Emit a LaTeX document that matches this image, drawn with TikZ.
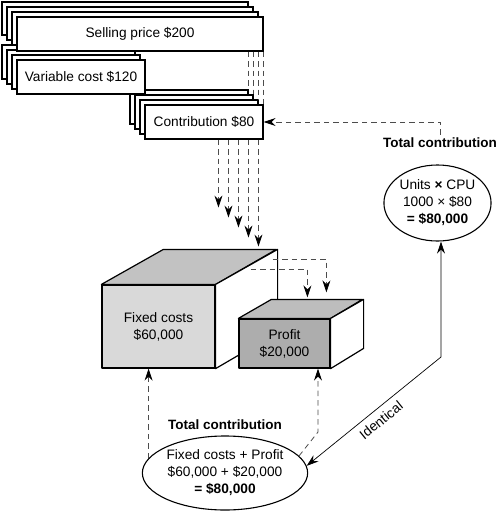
\documentclass[tikz,border=0pt]{standalone}
\usepackage{fontspec}
\setmainfont{Liberation Sans}
\usetikzlibrary{arrows.meta,shapes.geometric,calc}
\definecolor{fixfront}{HTML}{D9D9D9}
\definecolor{fixtop}{HTML}{C2C2C2}
\definecolor{proffront}{HTML}{ADADAD}
\definecolor{proftop}{HTML}{BDBDBD}
\begin{document}
\begin{tikzpicture}[x=1pt,y=-1pt,
  font=\fontsize{13.7}{17}\selectfont,
  card/.style={draw,line width=1.1pt,fill=white},
  cardnode/.style={card,inner sep=0pt,minimum height=34pt},
  face/.style={draw,line width=1.2pt,line join=round},
  facenode/.style={face,inner sep=0pt,align=center},
  dashline/.style={draw=black!70,line width=0.8pt,dash pattern=on 5.5pt off 4pt},
  tip/.style={-{Stealth[length=12pt,width=8pt,inset=4pt,color=black]}},
  bothtips/.style={{Stealth[length=12pt,width=8pt,inset=4pt]}-{Stealth[length=12pt,width=8pt,inset=4pt]}},
  ell/.style={ellipse,draw,line width=1.1pt,inner sep=0pt,align=center},
  boldlabel/.style={font=\fontsize{13.5}{17}\selectfont\bfseries}]
\useasboundingbox (0,0) rectangle (500,512);

% contribution stack
\foreach \k in {0,1,2} \draw[card] (130+5*\k,90+5*\k) rectangle ++(118,34);
\node[cardnode,minimum width=118pt] (contrib) at (204,122) {Contribution \$80};
% variable cost stack
\foreach \k in {0,1,2} \draw[card] (2+5*\k,45+5*\k) rectangle ++(128,34);
\node[cardnode,minimum width=128pt] (var) at (81,77) {Variable cost \$120};
% selling price stack
\foreach \k in {0,1,2} \draw[card] (2+5*\k,2+5*\k) rectangle ++(246,33);
\node[cardnode,minimum width=246pt] (sell) at (140,34) {Selling price \$200};

% dashed lines from selling price to contribution
\foreach \i in {0,...,3}
  \draw[dashline] ($(sell.south east)+(-15+5*\i,0)$) -- ($(contrib.north east)+(-15+5*\i,-15+5*\i)$);

% dashed arrows from contribution to fixed costs
\foreach \i/\l in {0/68,1/78,2/88,3/98,4/107}
  \draw[dashline,tip] ($(contrib.south west)+(74+10*\i,0)$) -- ++(0,\l);

% fixed costs block
\node[facenode,fill=fixfront,minimum width=113pt,minimum height=83pt] (fixed) at (158.5,326.5) {Fixed costs\\\$60,000};
\draw[face,fill=fixtop] (fixed.north west) -- ++(62,-35) -- ++(113,0) -- (fixed.north east) -- cycle;
\draw[face,fill=white] (fixed.north east) -- ++(62,-35) -- ++(0,83) -- (fixed.south east) -- cycle;

% profit block
\node[facenode,fill=proffront,minimum width=91pt,minimum height=49pt] (profit) at (284.5,343.5) {Profit\\\$20,000};

% dashed arrows from fixed costs to profit
\draw[dashline,tip] ($(fixed.north east)+(57,-25)$) -| ($(profit.north west)+(88,-26)$);
\draw[dashline,tip] ($(fixed.north east)+(35,-15)$) -| ($(profit.north west)+(69,-21)$);

\draw[face,fill=proftop] (profit.north west) -- ++(33,-19) -- ++(91,0) -- (profit.north east) -- cycle;
\draw[face,fill=white] (profit.north east) -- ++(33,-19) -- ++(0,49) -- (profit.south east) -- cycle;

% right: total contribution
\node[boldlabel] (tc1) at (440,143) {Total contribution};
\node[ell,minimum width=99pt,minimum height=76pt] (rell) at (437.5,203) {Units \textbf{×} CPU\\1000 × \$80\\\textbf{= \$80,000}};
\draw[dashline,tip] (tc1.north) |- (contrib.east);

% bottom: total contribution
\node[boldlabel] (tc2) at (225,425) {Total contribution};
\node[ell,minimum width=150pt,minimum height=74pt] (bell) at (225,473) {Fixed costs + Profit\\\$60,000 + \$20,000\\\textbf{= \$80,000}};

\coordinate (pbend) at (318,432);
\draw[dashline,tip] (bell.169.5) -- (bell.169.5 |- fixed.south);
\draw[dashline,tip] (bell.13) -- (pbend) -- (pbend |- profit.south);

% identical connector
\coordinate (corner) at (441,357);
\draw[line width=0.7pt,bothtips] (bell.5) -- node[sloped,below,pos=0.5,inner sep=6pt] {Identical} (corner) -- (corner |- rell.south);
\end{tikzpicture}
\end{document}
